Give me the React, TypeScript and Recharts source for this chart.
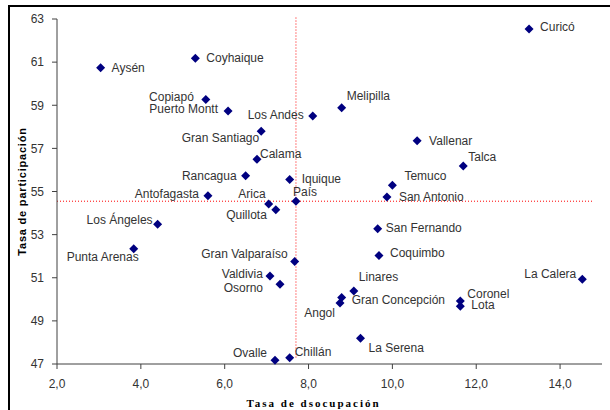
import { ReferenceLine, Scatter, ScatterChart, XAxis, YAxis, Label } from "recharts";

// Ciudades, tasa de desocupación (x) y tasa de participación (y)
const cities = [
  "Aysén", "Coyhaique", "Copiapó", "Puerto Montt", "Gran Santiago", "Calama", "Rancagua",
  "Iquique", "Antofagasta", "País", "Arica", "Quillota", "Curicó", "Melipilla", "Los Andes",
  "Vallenar", "Talca", "Temuco", "San Antonio", "Los Ángeles", "Punta Arenas",
  "Gran Valparaíso", "Valdivia", "Osorno", "Ovalle", "Chillán", "San Fernando", "Coquimbo",
  "La Calera", "Linares", "Gran Concepción", "Angol", "Coronel", "Lota", "La Serena",
];
const desocupacion = [
  3.04, 5.3, 5.55, 6.08, 6.87, 6.77, 6.5,
  7.55, 5.6, 7.7, 7.05, 7.22, 13.26, 8.79, 8.1,
  10.59, 11.69, 10.0, 9.87, 4.4, 3.83,
  7.67, 7.08, 7.32, 7.2, 7.55, 9.65, 9.68,
  14.53, 9.08, 8.79, 8.75, 11.62, 11.62, 9.24,
];
const participacion = [
  60.74, 61.18, 59.27, 58.73, 57.8, 56.49, 55.73,
  55.56, 54.8, 54.55, 54.42, 54.15, 62.54, 58.88, 58.5,
  57.35, 56.18, 55.29, 54.75, 53.48, 52.34,
  51.75, 51.08, 50.7, 47.17, 47.29, 53.27, 52.03,
  50.93, 50.39, 50.08, 49.83, 49.92, 49.68, 48.2,
];
const xTicks = [2, 4, 6, 8, 10, 12, 14];
const yTicks = [47, 49, 51, 53, 55, 57, 59, 61, 63];

// where each city's name sits relative to its marker: [dx, dy, anchor]
const labelPlacement: Record<string, [number, number, "start" | "end"]> = {
  "Aysén": [11, 0, "start"],
  "Coyhaique": [11, 0, "start"],
  "Copiapó": [-12, -2, "end"],
  "Puerto Montt": [-10, -2, "end"],
  "Gran Santiago": [-2, 7, "end"],
  "Calama": [3, -5, "start"],
  "Rancagua": [-9, 0, "end"],
  "Iquique": [12, 0, "start"],
  "Antofagasta": [-9, -2, "end"],
  "País": [-3, -9, "start"],
  "Arica": [-3, -10, "end"],
  "Quillota": [-9, 5, "end"],
  "Curicó": [11, -2, "start"],
  "Melipilla": [5, -12, "start"],
  "Los Andes": [-9, -1, "end"],
  "Vallenar": [12, 0, "start"],
  "Talca": [5, -9, "start"],
  "Temuco": [12, -9, "start"],
  "San Antonio": [12, 0, "start"],
  "Los Ángeles": [-5, -4, "end"],
  "Punta Arenas": [5, 8, "end"],
  "Gran Valparaíso": [-7, -8, "end"],
  "Valdivia": [-7, -2, "end"],
  "Osorno": [-17, 4, "end"],
  "Ovalle": [-8, -7, "end"],
  "Chillán": [5, -6, "start"],
  "San Fernando": [8, -1, "start"],
  "Coquimbo": [11, -3, "start"],
  "La Calera": [-6, -5, "end"],
  "Linares": [5, -14, "start"],
  "Gran Concepción": [10, 2, "start"],
  "Angol": [-5, 10, "end"],
  "Coronel": [7, -7, "start"],
  "Lota": [11, -1, "start"],
  "La Serena": [8, 10, "start"],
};

const data = cities.map((name, i) => ({ name, x: desocupacion[i], y: participacion[i] }));
const pais = data.find((d) => d.name === "País")!;

const FONT = "Arial, 'Liberation Sans', sans-serif";

function CityMarker(props: any) {
  const { cx, cy, payload } = props;
  const [dx, dy, anchor] = labelPlacement[payload.name] ?? [8, 0, "start"];
  const r = 4.5;
  return (
    <g>
      <polygon
        points={`${cx},${cy - r} ${cx + r},${cy} ${cx},${cy + r} ${cx - r},${cy}`}
        fill="#000080"
      />
      <text
        x={cx + dx}
        y={cy + dy}
        textAnchor={anchor}
        dominantBaseline="central"
        fontSize={12}
        fontFamily={FONT}
        fill="#333"
      >
        {payload.name}
      </text>
    </g>
  );
}

export default function App() {
  return (
    <div style={{ position: "fixed", left: 0, top: 0, width: 610, height: 410, overflow: "hidden", background: "#fff" }}>
      <div
        style={{
          position: "absolute",
          left: 8,
          top: 5,
          width: 640,
          height: 440,
          borderLeft: "2px solid #000",
          borderTop: "2px solid #000",
        }}
      />
      <div style={{ position: "absolute", left: 0, top: 0 }}>
        <ScatterChart width={610} height={410} margin={{ top: 19, right: 8, bottom: 0, left: 0 }}>
          <XAxis
            type="number"
            dataKey="x"
            domain={[2, 15]}
            ticks={xTicks}
            tickFormatter={(v: number) => v.toFixed(1).replace(".", ",")}
            tickSize={5}
            tickMargin={10}
            height={46}
            stroke="#404040"
            tick={{ fill: "#333", fontSize: 12, fontFamily: FONT }}
          >
            <Label
              content={({ viewBox }: any) => (
                <text
                  x={viewBox.x + viewBox.width / 2 - 16}
                  y={403}
                  textAnchor="middle"
                  dominantBaseline="central"
                  fontSize={11}
                  fontWeight="bold"
                  letterSpacing={2}
                  fontFamily="'Times New Roman', 'Liberation Serif', serif"
                  fill="#000"
                >
                  Tasa de dsocupación
                </text>
              )}
            />
          </XAxis>
          <YAxis
            type="number"
            dataKey="y"
            domain={[47, 63]}
            ticks={yTicks}
            tickSize={5}
            tickMargin={8}
            width={57}
            stroke="#404040"
            tick={{ fill: "#333", fontSize: 12, fontFamily: FONT }}
          >
            <Label
              content={({ viewBox }: any) => (
                <text
                  x={22}
                  y={viewBox.y + viewBox.height / 2}
                  transform={`rotate(-90 22 ${viewBox.y + viewBox.height / 2})`}
                  textAnchor="middle"
                  dominantBaseline="central"
                  fontSize={11}
                  fontWeight="bold"
                  letterSpacing={0.8}
                  fontFamily={FONT}
                  fill="#000"
                >
                  Tasa de participación
                </text>
              )}
            />
          </YAxis>
          <ReferenceLine
            segment={[{ x: pais.x, y: 47.3 }, { x: pais.x, y: 63.1 }]}
            stroke="#ff0000"
            strokeDasharray="1 2"
            ifOverflow="visible"
          />
          <ReferenceLine
            segment={[{ x: 2, y: pais.y }, { x: 14.8, y: pais.y }]}
            stroke="#ff0000"
            strokeDasharray="1 2"
            ifOverflow="visible"
          />
          <Scatter data={data} shape={<CityMarker />} isAnimationActive={false} />
        </ScatterChart>
      </div>
    </div>
  );
}
